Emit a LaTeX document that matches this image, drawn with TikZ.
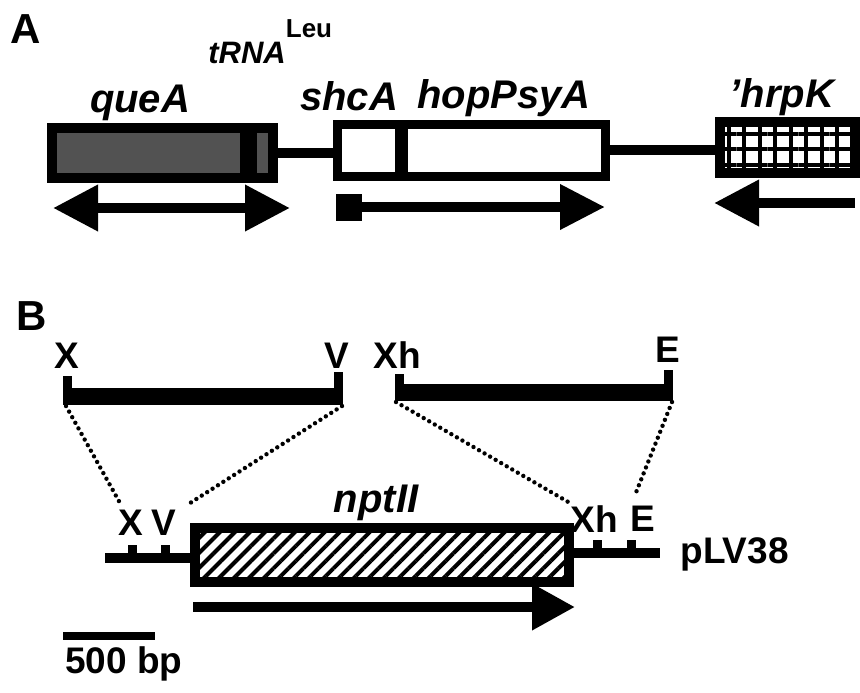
\documentclass[tikz,border=0pt]{standalone}
\usepackage{fontspec}
\setmainfont{Liberation Sans}
\usetikzlibrary{arrows.meta,patterns.meta,calc}

\begin{document}
\begin{tikzpicture}[x=0.5pt,y=-0.5pt,
  gene/.style={draw=black,line width=5pt,inner sep=0pt},
  dna/.style={line width=5pt},
  bar/.style={line width=8.5pt},
  tick/.style={line width=4.5pt},
  dots/.style={line width=2.2pt,line cap=round,dash pattern=on 0pt off 3.2pt},
  tx/.style={dna,-{Triangle[length=22.5pt,width=22pt]}},
  lbl/.style={font=\fontsize{20}{22}\selectfont\bfseries\itshape,inner sep=0pt,anchor=base},
  site/.style={font=\fontsize{18.5}{20}\selectfont\bfseries,inner sep=0pt,anchor=base},
  panel/.style={font=\fontsize{21}{24}\selectfont\bfseries,inner sep=0pt,anchor=base west},
]
\useasboundingbox (0,0) rectangle (860,692);

% A
\node[panel] (pa) at (10,43) {A};
\node[lbl] (queAlbl) at (140,112) {queA};
\node[lbl,anchor=base west] (trnalbl) at (208,63)
  {{\fontsize{15.5}{17}\selectfont tRNA}\raisebox{13pt}{\fontsize{13}{14}\selectfont\upshape Leu}};
\node[lbl] (shcAlbl) at (349,110) {shcA};
\node[lbl] (hopPsyAlbl) at (504,108) {hopPsyA};
\node[lbl] (hrpKlbl) at (782,107) {'hrpK};

\node[gene,fill=black!68,minimum width=110.5pt,minimum height=25pt] (queA) at (162.5,153) {};
\node[fill=black,inner sep=0pt,minimum width=8.5pt,minimum height=20pt] (trna) at (248.5,153) {};
\node[gene,line width=4.5pt,minimum width=31pt,minimum height=26pt] (shcA) at (368,150) {};
\node[gene,line width=4.5pt,minimum width=101pt,minimum height=26pt] (hopPsyA) at (504,150) {};
\node[gene,pattern={Hatch[angle=0,distance=7.75pt,line width=2pt]},
      minimum width=67.5pt,minimum height=25.5pt] (hrpK) at (787.5,147.5) {};
\draw[dna] (queA.east) -- (queA.east -| shcA.west);
\draw[dna] (hopPsyA.east) -- (hopPsyA.east -| hrpK.west);

\draw[dna,{Triangle[length=22.5pt,width=22pt]}-{Triangle[length=22.5pt,width=22pt]}] (53,208) -- (290,208);
\draw[dna,{Square[length=13pt,width=13.5pt]}-{Triangle[length=22.5pt,width=21.5pt]}] (336,207) -- (605,207);
\draw[tx] (855,203) -- (714,203);

% B
\node[panel] (pb) at (16,330) {B};
\node[site] (X1) at (67,368) {X};
\node[site] (V1) at (337,368) {V};
\node[site] (Xh1) at (397,368) {Xh};
\node[site] (E1) at (668,362) {E};
\draw[bar] (63,396) -- (343,396);
\draw[tick] (67.5,376) -- (67.5,396);
\draw[tick] (338.5,372) -- (338.5,396);
\draw[bar] (395,392) -- (673,392);
\draw[tick] (399.5,374) -- (399.5,392);
\draw[tick] (668.5,370) -- (668.5,392);
\coordinate (xa) at (66,406);
\coordinate (va) at (342,406);
\coordinate (xha) at (396,402);
\coordinate (ea) at (672,402);

\node[site] (X2) at (131,535) {X};
\node[site] (V2) at (164,535) {V};
\node[site] (Xh2) at (594,532) {Xh};
\node[site] (E2) at (643,531) {E};
\node[lbl] (nptIIlbl) at (376,512) {nptII};
\node[site,anchor=base west] (plv) at (680,563) {pLV38};
\coordinate (xb) at (120,503);
\coordinate (vb) at (187,505);
\coordinate (xhb) at (570,503);
\coordinate (eb) at (635,495);
\draw[dots] (xa) -- (xb);
\draw[dots] (va) -- (vb);
\draw[dots] (xha) -- (xhb);
\draw[dots] (ea) -- (eb);

\node[gene,pattern={Lines[angle=45,distance=5.3pt,line width=2pt]},
      minimum width=187pt,minimum height=27pt] (nptII) at (382,555) {};
\coordinate (L) at (105,558);
\coordinate (R) at (660,553);
\draw[dna] (L) -- (L -| nptII.west);
\draw[dna] (nptII.east |- R) -- (R);
\draw[tick] (132,545) -- (132,558);
\draw[tick] (165,545) -- (165,558);
\draw[tick] (597,540) -- (597,553);
\draw[tick] (631,540) -- (631,553);
\draw[dna,-{Triangle[length=21.5pt,width=22pt]}] (193,607) -- (575,607);

\draw[line width=4pt] (63,636) -- (155,636);
\node[site,anchor=base west] (scale) at (65,673) {500 bp};
\end{tikzpicture}
\end{document}
